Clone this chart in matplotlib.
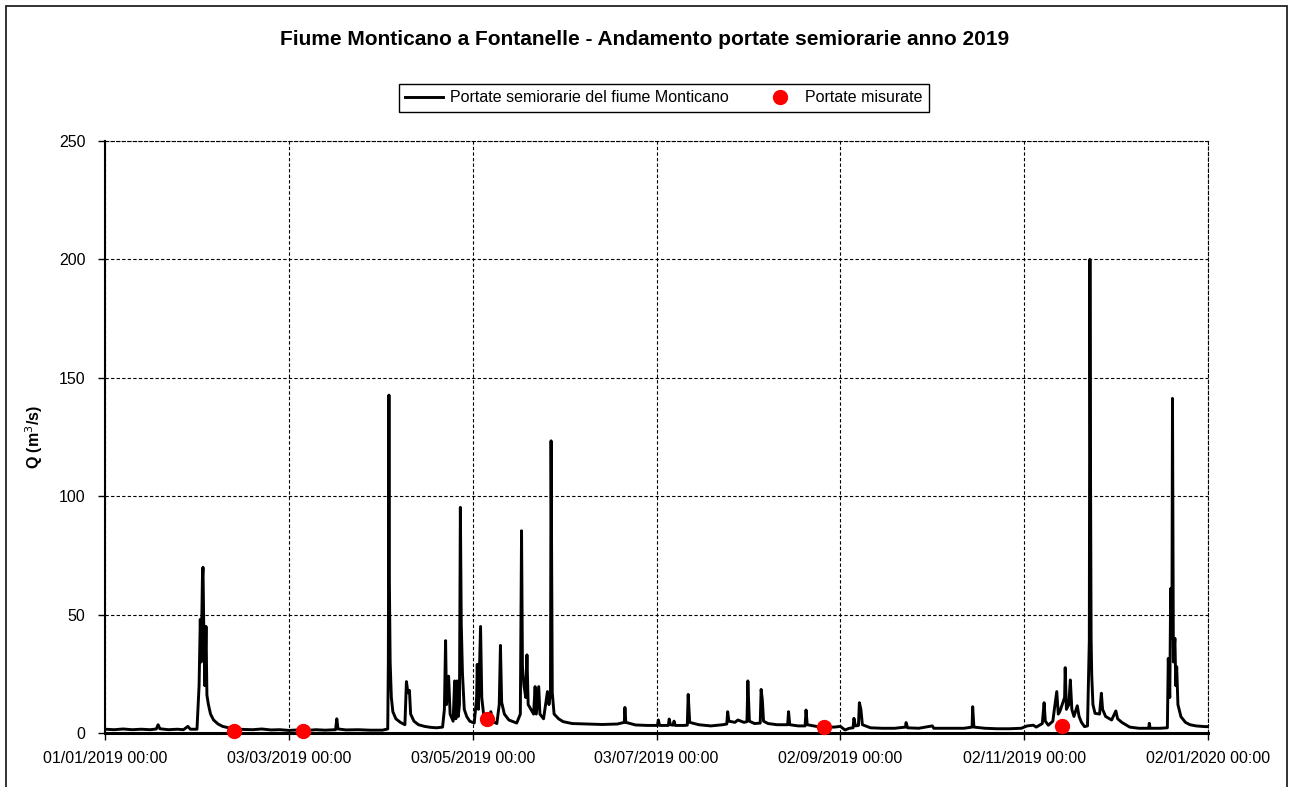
import pandas as pd
import matplotlib.pyplot as plt
from matplotlib.patches import Rectangle

# half-hourly discharge as (days since 01/01/2019, m3/s)
flow_days = [
    0, 3, 6, 9, 12, 15, 17, 17.6, 18.2, 21, 24, 26, 27.5, 28.3, 30.5,
    31.2, 31.6, 31.9, 32.3, 32.5, 32.8, 33.1, 33.5, 33.8, 34.3, 35, 36, 37.5,
    39, 41, 43, 46, 49, 52, 55, 58, 61, 64, 67, 70, 73, 76.5, 76.9, 77.3, 80,
    84, 88, 92, 93.8,
    94.0, 94.2, 94.35, 94.6, 95, 95.5, 96.5, 98, 99.5, 100.0, 100.5, 101,
    101.4, 102.5, 104, 106, 108, 110, 112, 112.6, 113, 113.3, 114, 114.5,
    115.5, 116, 116.4, 116.8, 117.2, 117.6, 117.9, 118.2, 118.6, 119.2, 120,
    121, 122.5, 123.3, 123.5, 123.9, 124.6, 125, 125.6, 126.6, 127.5, 128,
    128.5, 130, 130.8, 131.2, 131.6, 132.5, 134, 136.6, 137.8, 138.2, 138.5,
    139, 139.6, 140, 140.4, 141.3, 142.2, 142.7, 143.1, 143.9, 144.3, 145.5,
    146.8, 147.3, 147.8, 148.0, 148.4, 149, 150.5, 152, 155, 160, 165, 170,
    172.3, 172.5, 172.8, 176, 180, 183.3, 183.6, 184, 186.9, 187.2, 187.6,
    188.5, 188.8, 189.2, 192, 193.2, 193.5, 194, 197, 201, 205, 206.3, 206.6,
    207, 209, 210, 212, 213.0, 213.3, 213.8, 215.5, 217.4, 217.7, 218.1,
    218.5, 220, 223, 226.5, 226.8, 227.2, 230, 232.3, 232.6, 233, 236,
    239, 242, 244, 245.5, 247, 248.2, 248.5, 249, 250.0, 250.3, 250.8, 251.3,
    254, 258, 262, 265.6, 265.8, 266.3, 270, 274.5, 275, 280, 285, 287.7,
    287.9, 288.3, 292, 296, 300, 304, 306, 308, 309, 311, 311.6, 312, 313,
    314.5, 315, 315.8, 316.3, 316.8, 318.4, 318.6, 319, 319.8, 320.3, 320.8,
    321.5, 322.6, 323.2, 324, 325, 326, 326.6, 326.8, 327.0, 327.2, 327.4,
    327.8, 328.5, 330, 330.6, 331, 332, 334, 335.4, 336, 337.5, 340, 343,
    346.3, 346.5, 346.8, 350, 352.5, 352.8, 353.3, 353.6, 354, 354.2, 354.5,
    355, 355.3, 355.6, 356, 357, 358.5, 360, 362, 365, 366,
]
flow_q = [
    1.6, 1.4, 1.7, 1.4, 1.6, 1.4, 1.7, 3.5, 1.8, 1.4, 1.6, 1.4, 2.8, 1.6, 1.6,
    20, 48, 30, 65, 70, 40, 20, 45, 16, 12, 8, 5.5, 3.8,
    2.8, 2.2, 1.8, 1.5, 1.4, 1.7, 1.3, 1.4, 1.1, 1.3, 1.1, 1.4, 1.2, 1.4, 6, 1.7, 1.3,
    1.4, 1.2, 1.2, 1.7,
    30, 142.7, 63, 30, 15, 9, 6, 4.5, 3.5, 21.7, 17, 18,
    8, 5, 3.5, 2.8, 2.4, 2.2, 2.5, 10, 39, 12, 24, 8,
    5, 22, 6, 22, 7, 12, 95.3, 46, 25, 10, 7,
    5, 4.2, 15, 29, 10, 45, 15, 8, 6, 5.5, 9,
    5, 4, 12, 37, 13, 8, 5.5, 4.2, 8, 85.4, 28,
    20, 15, 33, 12, 10, 8, 19.6, 8, 19.6, 8, 6,
    17.5, 12, 17, 123.4, 17, 8, 6, 4.8, 4, 3.8, 3.6, 3.8,
    4.5, 10.8, 4.5, 3.4, 3.2, 3.2, 5.5, 3.2, 3.2, 5.9, 3.5,
    3.3, 5, 3.2, 3.2, 3.3, 16.3, 4.5, 3.5, 3.0, 3.5, 3.8, 9,
    5, 4.5, 5.5, 4.5, 4.8, 22, 5, 4, 4.2, 18.4, 14,
    5, 4, 3.5, 3.5, 9, 3.5, 3, 3.0, 9.7, 3.5, 2.8,
    2.5, 2.5, 2.8, 1.3, 2, 2.2, 6.2, 3, 3.2, 12.8, 10, 3.5,
    2.2, 2, 2, 2.5, 4.4, 2.2, 2, 3, 2, 2, 2, 2.5,
    11.1, 2.5, 2, 1.8, 1.8, 2, 3, 3.3, 2.5, 4, 12.8, 5, 3.3,
    5, 10, 17.5, 8, 9, 15, 27.6, 10, 12, 22.4, 10,
    7, 11.5, 7, 4.5, 2.7, 3, 39, 200, 109.7, 40, 24.5,
    12, 8.3, 8, 16.8, 10, 7, 5.5, 9.3, 6, 4.4, 2.5, 2,
    2, 4.1, 2, 2, 2.2, 31.5, 15, 61, 40, 141.3, 30,
    40, 20, 28, 12, 6.9, 4.5, 3.5, 3, 2.7, 2.7,
]

# spot gaugings (red dots)
meas_days = [42.8, 65.8, 126.6, 238.7, 317.5]
meas_q = [1.0, 0.9, 5.8, 2.4, 3.0]

tick_dates = ["2019-01-01", "2019-03-03", "2019-05-03", "2019-07-03",
              "2019-09-02", "2019-11-02", "2020-01-02"]
tick_labels = ["01/01/2019 00:00", "03/03/2019 00:00", "03/05/2019 00:00",
               "03/07/2019 00:00", "02/09/2019 00:00", "02/11/2019 00:00",
               "02/01/2020 00:00"]
y_ticks = [0, 50, 100, 150, 200, 250]

start = pd.Timestamp("2019-01-01")
flow_t = start + pd.to_timedelta(flow_days, unit="D")
meas_t = start + pd.to_timedelta(meas_days, unit="D")

plt.rcParams["font.family"] = ["Liberation Sans", "DejaVu Sans"]

fig = plt.figure(figsize=(12.89, 7.87), dpi=100)
ax = fig.add_axes([0.0815, 0.0686, 0.8557, 0.7522])

ax.plot(flow_t, flow_q, color="black", lw=2.1,
        label="Portate semiorarie del fiume Monticano", zorder=3)
ax.plot(meas_t, meas_q, "o", color="#ff0000", ms=10, mec="#ff0000",
        label="Portate misurate", zorder=4, clip_on=False)

ax.set_xlim(pd.Timestamp(tick_dates[0]), pd.Timestamp(tick_dates[-1]))
ax.set_ylim(0, 250)
ax.set_xticks(pd.to_datetime(tick_dates))
ax.set_xticklabels(tick_labels)
ax.set_yticks(y_ticks)
ax.tick_params(axis="both", labelsize=11.5, length=5, width=1, direction="out",
               color="black")
ax.tick_params(axis="x", pad=8)
ax.tick_params(axis="y", pad=9)

ax.grid(True, color="black", lw=0.8, ls=(0, (3, 2)))
for side in ["top", "right"]:
    ax.spines[side].set_linestyle((0, (3, 2)))
    ax.spines[side].set_linewidth(0.8)
ax.spines["left"].set_linewidth(1.5)
ax.spines["bottom"].set_linewidth(2.2)

ax.set_ylabel("Q (m$^3$/s)", fontsize=11.5, fontweight="bold", labelpad=10)

fig.suptitle("Fiume Monticano a Fontanelle - Andamento portate semiorarie anno 2019",
             fontsize=15, fontweight="bold", x=0.5, y=0.962)

leg = fig.legend(loc="center", bbox_to_anchor=(0.515, 0.8755), ncol=2,
                 fontsize=11.5, frameon=True, fancybox=False, framealpha=1,
                 edgecolor="black", handlelength=2.4, columnspacing=2.0,
                 borderpad=0.4, handletextpad=0.4)
leg.get_frame().set_linewidth(1.0)

# chart-area border
fig.patches.append(Rectangle((6 / 1289, -0.05), 1281 / 1289, 1.05 - 6 / 787,
                             transform=fig.transFigure, fill=False,
                             edgecolor="#222222", lw=1.3))

fig.savefig("out.png", dpi=100)
